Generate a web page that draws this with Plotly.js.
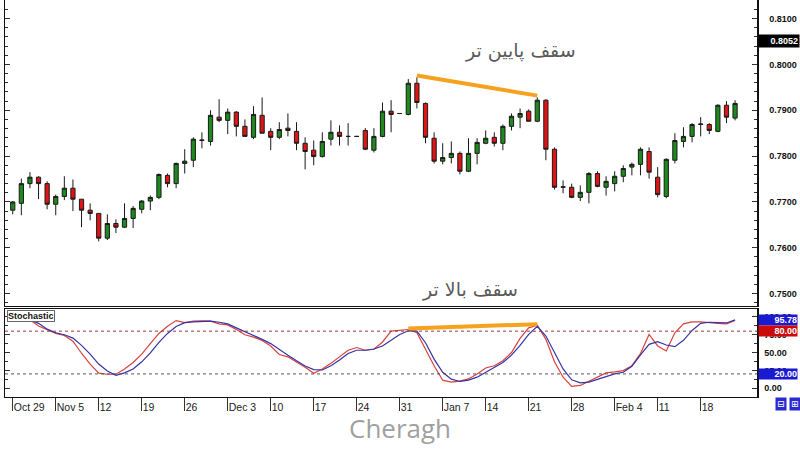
<!DOCTYPE html>
<html><head><meta charset="utf-8">
<script src="https://cdn.plot.ly/plotly-3.0.1.min.js"></script>
<style>html,body{margin:0;padding:0;background:#fff;}#chart{width:800px;height:450px;}</style>
</head><body><div id="chart"></div>
<script>
// ---- data ----
const openP = [0.7682,0.7697,0.7740,0.7754,0.7740,0.7695,0.7712,0.7730,0.7706,0.7682,
0.7675,0.7621,0.7653,0.7645,0.7664,0.7684,0.7702,0.7710,0.7758,0.7740,
0.7784,0.7791,0.7834,0.7832,0.7885,0.7878,0.7896,0.7865,0.7841,0.7889,
0.7854,0.7841,0.7861,0.7854,0.7828,0.7813,0.7799,0.7837,0.7852,0.7843,
0.7843,0.7856,0.7813,0.7843,0.7898,0.7893,0.7891,0.7959,0.7915,0.7839,
0.7789,0.7797,0.7806,0.7767,0.7806,0.7828,0.7841,0.7828,0.7865,0.7885,
0.7898,0.7876,0.7922,0.7815,0.7732,0.7732,0.7710,0.7721,0.7762,0.7732,
0.7740,0.7756,0.7776,0.7782,0.7810,0.7754,0.7712,0.7791,0.7832,0.7843,
0.7869,0.7869,0.7854,0.7911,0.7883];
const highP = [0.7702,0.7751,0.7765,0.7756,0.7745,0.7716,0.7756,0.7749,0.7706,0.7697,
0.7675,0.7673,0.7662,0.7697,0.7691,0.7704,0.7714,0.7762,0.7762,0.7786,
0.7815,0.7841,0.7852,0.7900,0.7924,0.7904,0.7898,0.7880,0.7909,0.7928,
0.7861,0.7874,0.7893,0.7874,0.7841,0.7834,0.7852,0.7878,0.7867,0.7872,
0.7843,0.7861,0.7861,0.7917,0.7922,0.7893,0.7968,0.7972,0.7917,0.7852,
0.7828,0.7832,0.7810,0.7839,0.7839,0.7856,0.7852,0.7869,0.7893,0.7904,
0.7902,0.7928,0.7924,0.7819,0.7747,0.7740,0.7736,0.7765,0.7767,0.7756,
0.7767,0.7780,0.7786,0.7819,0.7819,0.7776,0.7795,0.7850,0.7863,0.7872,
0.7885,0.7872,0.7913,0.7920,0.7922];
const lowP = [0.7673,0.7671,0.7730,0.7706,0.7684,0.7671,0.7704,0.7680,0.7645,0.7660,
0.7614,0.7617,0.7632,0.7643,0.7643,0.7675,0.7682,0.7706,0.7732,0.7730,
0.7762,0.7776,0.7817,0.7823,0.7874,0.7848,0.7843,0.7843,0.7837,0.7850,
0.7813,0.7837,0.7843,0.7813,0.7771,0.7780,0.7797,0.7823,0.7823,0.7823,
0.7843,0.7813,0.7808,0.7841,0.7852,0.7893,0.7889,0.7904,0.7828,0.7784,
0.7782,0.7784,0.7760,0.7765,0.7782,0.7826,0.7821,0.7813,0.7856,0.7861,
0.7876,0.7874,0.7791,0.7727,0.7719,0.7708,0.7702,0.7697,0.7732,0.7714,
0.7723,0.7743,0.7758,0.7758,0.7751,0.7710,0.7708,0.7784,0.7819,0.7830,
0.7843,0.7848,0.7852,0.7872,0.7878];
const closeP = [0.7700,0.7740,0.7754,0.7740,0.7695,0.7712,0.7730,0.7706,0.7682,0.7675,
0.7621,0.7653,0.7645,0.7664,0.7686,0.7702,0.7710,0.7760,0.7740,0.7784,
0.7789,0.7837,0.7835,0.7889,0.7878,0.7896,0.7865,0.7843,0.7891,0.7850,
0.7841,0.7858,0.7856,0.7828,0.7810,0.7799,0.7832,0.7852,0.7843,0.7843,
0.7843,0.7815,0.7843,0.7898,0.7891,0.7893,0.7959,0.7917,0.7841,0.7789,
0.7797,0.7806,0.7767,0.7806,0.7830,0.7839,0.7828,0.7865,0.7887,0.7893,
0.7876,0.7922,0.7815,0.7732,0.7733,0.7710,0.7721,0.7762,0.7734,0.7745,
0.7756,0.7773,0.7782,0.7815,0.7765,0.7716,0.7793,0.7834,0.7843,0.7869,
0.7870,0.7856,0.7911,0.7885,0.7915];
const stochK = [96,96,96,87.1,81.8,76.8,74,66,49,33.8,
21,19.5,19.5,27,36,47.7,62.5,76.8,87,94.8,
92,94,94.3,94,90.2,88.8,82.3,75,71.7,67,
59.2,47.2,44,37,29.2,21,27,34.8,44,53.2,
57,53.2,54.6,64.8,80,81,82.3,77.7,54.6,31.5,
11.2,8.4,9.8,13,20,28.3,31.5,38.4,50,69.8,
84.6,88.3,68.5,37,15.4,2.4,3.8,9.8,16.3,21.4,
22.8,24.6,31.5,48.6,75.4,59.2,52.3,77.7,90.2,93,
93,92.5,91,90.2,95];
const stochD = [96,96,96,91,82.8,77.7,75,70.3,60,47.7,
33.8,24,18.1,21.4,27,37,49.5,64.3,76.8,86.5,
92,93,93,94,92.5,90.2,84.6,79.5,74,68.5,
62.5,54,46.3,38.4,31,26,25.5,31.5,39.4,48.6,
53.2,53.2,55,59.2,67.1,75.4,80.5,80,63.8,40.8,
22.3,12.6,9.4,11.2,15.4,22.3,29.2,36,46.3,60,
75.4,86.9,73.1,50,26.9,11.7,7.5,8.4,12.1,15.4,
20,22.3,30.6,46.8,61.5,65.2,60.6,58.3,67.1,81,
91,92.5,92,91.5,95.78];
const tickIndex = [0,5,10,15,20,25,30,35,40,45,50,55,60,65,70,75,80];
const tickText = ["Oct 29","Nov 5","12","19","26","Dec 3","10","17","24","31","Jan 7","14","21","28","Feb 4","11","18"];
const priceTicks = [0.75,0.76,0.77,0.78,0.79,0.80,0.81];
const stochTicks = [0,25,50,75,100];
const lastPrice = 0.8052;
const stochLevels = [80,20];
const priceDivIdx = [47,61];
const stochDivIdx = [46,61];
const txtLowerHigh = "سقف پایین تر";
const txtHigherHigh = "سقف بالا تر";

// ---- build ----
const xs = openP.map((_, i) => i);
const orange = '#f5a21e';
const axisFont = {family:'Liberation Sans, Arial, sans-serif', size:9, color:'#111', weight:700};
const lblFont = {family:'Liberation Sans, Arial, sans-serif', size:9, color:'#fff', weight:700};

const traces = [
  {type:'candlestick', x:xs, open:openP, high:highP, low:lowP, close:closeP,
   xaxis:'x', yaxis:'y', whiskerwidth:0,
   increasing:{fillcolor:'#1c8a1c', line:{color:'#1a1a1a', width:1}},
   decreasing:{fillcolor:'#e01414', line:{color:'#1a1a1a', width:1}},
   showlegend:false, hoverinfo:'skip'},
  {type:'scatter', mode:'lines', x:priceDivIdx, y:priceDivIdx.map(i => highP[i] + 0.0004),
   xaxis:'x', yaxis:'y', line:{color:orange, width:4}, showlegend:false, hoverinfo:'skip'},
  {type:'scatter', mode:'lines', x:xs, y:stochK, xaxis:'x2', yaxis:'y2',
   line:{color:'#d9413c', width:1.2}, showlegend:false, hoverinfo:'skip'},
  {type:'scatter', mode:'lines', x:xs, y:stochD, xaxis:'x2', yaxis:'y2',
   line:{color:'#3434a8', width:1.2}, showlegend:false, hoverinfo:'skip'},
  {type:'scatter', mode:'lines', x:stochDivIdx, y:stochDivIdx.map(i => Math.max(stochK[i], stochD[i]) + 1.5),
   xaxis:'x2', yaxis:'y2', line:{color:orange, width:4}, showlegend:false, hoverinfo:'skip'}
];

const xr = [-0.9, 86.55];
function sideLabel(text, yref, y, bg) {
  return {text:text, xref:'paper', yref:yref, x:1, y:y, xanchor:'left', yanchor:'middle', showarrow:false,
          bgcolor:bg, width:38, align:'right', borderpad:0, xshift:1, font:lblFont};
}
const layout = {
  width:800, height:450,
  margin:{l:5, r:43, t:0, b:53},
  paper_bgcolor:'#fff', plot_bgcolor:'#fff',
  showlegend:false,
  xaxis:{domain:[0,1], anchor:'y', range:xr, rangeslider:{visible:false},
         showticklabels:false, ticks:'', showgrid:false, zeroline:false,
         showline:true, mirror:true, linecolor:'#111', linewidth:1},
  xaxis2:{domain:[0,1], anchor:'y2', matches:'x', range:xr,
          tickmode:'array', tickvals:tickIndex, ticktext:tickText,
          ticks:'outside', ticklen:13, tickcolor:'#333', tickwidth:1,
          ticklabelposition:'outside right',
          tickfont:{family:'Liberation Sans, Arial, sans-serif', size:10.5, color:'#222'},
          showgrid:false, zeroline:false, showline:true, mirror:true, linecolor:'#111', linewidth:1},
  yaxis:{domain:[0.2298,1], anchor:'x', side:'right', range:[0.74735,0.81406],
         tickmode:'array', tickvals:priceTicks, tickformat:'.4f',
         ticks:'inside', ticklen:5, tickcolor:'#333',
         minor:{dtick:0.002, ticks:'inside', ticklen:3, tickcolor:'#333', showgrid:false},
         ticklabelstandoff:9, tickfont:axisFont,
         showgrid:false, zeroline:false, showline:true, mirror:'ticks', linecolor:'#111', linewidth:1.5},
  yaxis2:{domain:[0,0.2222], anchor:'x2', side:'right', range:[-12.4,111.4],
          tickmode:'array', tickvals:stochTicks, tickformat:'.2f',
          ticks:'inside', ticklen:5, tickcolor:'#333',
          minor:{dtick:12.5, ticks:'inside', ticklen:3, tickcolor:'#333', showgrid:false},
          ticklabelstandoff:4, tickfont:axisFont,
          showgrid:false, zeroline:false, showline:true, mirror:'ticks', linecolor:'#111', linewidth:1.5},
  shapes: stochLevels.map((lv, k) => ({type:'line', xref:'paper', x0:0, x1:1, yref:'y2', y0:lv, y1:lv,
     line:{color: k === 0 ? '#9a3b3b' : '#555', width:1, dash:'dot'}})),
  annotations:[
    {text:txtLowerHigh, xref:'paper', yref:'paper', x:0.685, y:0.874, xanchor:'center', yanchor:'middle', showarrow:false,
     font:{family:'DejaVu Sans, sans-serif', size:19, color:'#5a5a5a'}},
    {text:txtHigherHigh, xref:'paper', yref:'paper', x:0.618, y:0.272, xanchor:'center', yanchor:'middle', showarrow:false,
     font:{family:'DejaVu Sans, sans-serif', size:19, color:'#5a5a5a'}},
    {text:'Stochastic', xref:'paper', yref:'y2 domain', x:0, y:1, xanchor:'left', yanchor:'top',
     xshift:2, yshift:-1, showarrow:false, bgcolor:'#fff', bordercolor:'#666', borderwidth:1, borderpad:0,
     font:{family:'Liberation Sans, Arial, sans-serif', size:9, color:'#111', weight:700}},
    Object.assign(sideLabel(lastPrice.toFixed(4), 'y', lastPrice, '#000'), {borderpad:1}),
    sideLabel(stochD[stochD.length-1].toFixed(2), 'y2', stochD[stochD.length-1], '#1a1ad2'),
    sideLabel(stochLevels[0].toFixed(2), 'y2', stochLevels[0], '#cc0a0a'),
    sideLabel(stochLevels[1].toFixed(2), 'y2', stochLevels[1], '#1a1ad2'),
    {text:'Cheragh', xref:'paper', yref:'paper', x:0.525, y:-0.078, xanchor:'center', yanchor:'middle', showarrow:false,
     font:{family:'Open Sans, Lato, sans-serif', size:26, color:'#a0a0a0'}},
    {text:'⊟', xref:'paper', yref:'paper', x:1.032, y:-0.0177, xanchor:'center', yanchor:'middle', showarrow:false, bgcolor:'#2a2ad0',
     borderpad:1, font:{family:'DejaVu Sans', size:9, color:'#fff'}},
    {text:'⊞', xref:'paper', yref:'paper', x:1.05, y:-0.0177, xanchor:'center', yanchor:'middle', showarrow:false, bgcolor:'#2a2ad0',
     borderpad:1, font:{family:'DejaVu Sans', size:9, color:'#fff'}}
  ]
};
Plotly.newPlot('chart', traces, layout, {displayModeBar:false, staticPlot:true});
</script></body></html>
